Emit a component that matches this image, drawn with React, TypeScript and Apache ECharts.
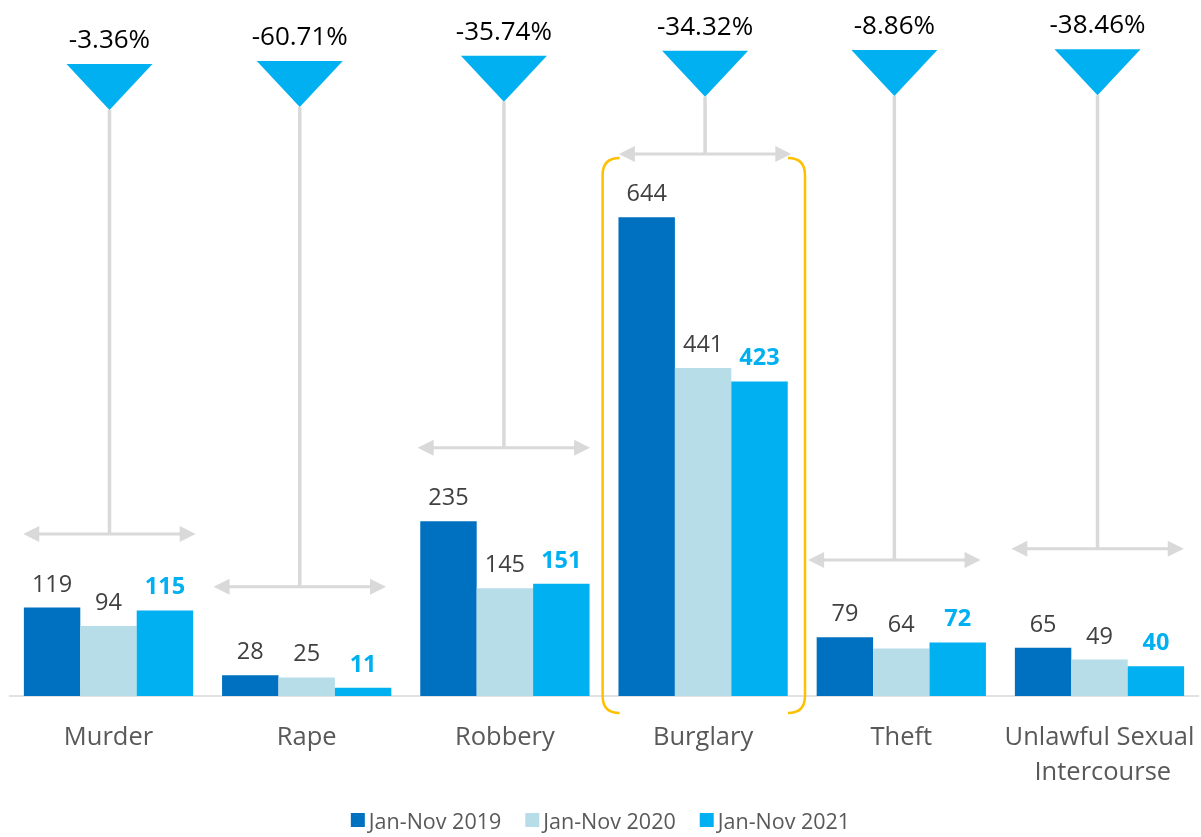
import React, { useEffect, useRef } from "react";
import * as echarts from "echarts";

const categories = ["Murder", "Rape", "Robbery", "Burglary", "Theft", "Unlawful Sexual Intercourse"];
const seriesNames = ["Jan-Nov 2019", "Jan-Nov 2020", "Jan-Nov 2021"];
const jan2019 = [119, 28, 235, 644, 79, 65];
const jan2020 = [94, 25, 145, 441, 64, 49];
const jan2021 = [115, 11, 151, 423, 72, 40];
// level (in data units) of the double-headed arrow and of the pointer tip above each group
const arrowLevel = [218, 147, 334, 729, 183, 198];
const pointerTip = [788, 792, 799, 806, 807, 808];
const highlightCategory = "Burglary";

// layout: small horizontal shift of each callout, in category widths
const calloutShift = [0.005, -0.035, -0.005, 0.01, -0.035, -0.01];

const FONT = "'Open Sans', 'Noto Sans', sans-serif";
const COLORS = ["#0070C0", "#B7DEE8", "#00B0F0"];
const GREY = "#D9D9D9";

const pctChange = categories.map((_, i) => (((jan2021[i] - jan2019[i]) / jan2019[i]) * 100).toFixed(2) + "%");

export default function App() {
  const ref = useRef<HTMLDivElement>(null);
  useEffect(() => {
    if (!ref.current) return;
    const chart = echarts.init(ref.current, undefined, { renderer: "svg" });
    const barLabel = (bold: boolean) => ({
      show: true,
      position: "top",
      distance: 13,
      fontSize: 23.5,
      fontFamily: FONT,
      fontWeight: bold ? "bold" : "normal",
      color: bold ? "#00B0F0" : "#404040",
    });
    const calloutData = categories.map((_, i) => [i, arrowLevel[i], pointerTip[i], pctChange[i]]);
    const option: any = {
      animation: false,
      textStyle: { fontFamily: FONT },
      grid: { left: 9.4, right: 2.4, top: 0, bottom: 141, containLabel: false },
      legend: {
        data: seriesNames,
        bottom: 1,
        left: "center",
        icon: "rect",
        itemWidth: 14,
        itemHeight: 14,
        itemGap: 24,
        textStyle: { fontSize: 21.5, color: "#595959", fontFamily: FONT, padding: [0, 0, 0, -1] },
      },
      xAxis: {
        type: "category",
        data: categories,
        axisLine: { show: true, lineStyle: { color: GREY, width: 1.5 } },
        axisTick: { show: false },
        axisLabel: {
          fontSize: 25.5,
          color: "#595959",
          fontFamily: FONT,
          margin: 21,
          lineHeight: 35,
          width: 196,
          overflow: "break",
          interval: 0,
        },
      },
      yAxis: { type: "value", min: 0, max: 936, show: false, splitLine: { show: false } },
      series: [
        { name: seriesNames[0], type: "bar", data: jan2019, barGap: "0%", barCategoryGap: "14.6%", itemStyle: { color: COLORS[0] }, label: barLabel(false) },
        { name: seriesNames[1], type: "bar", data: jan2020, barGap: "0%", barCategoryGap: "14.6%", itemStyle: { color: COLORS[1] }, label: barLabel(false) },
        { name: seriesNames[2], type: "bar", data: jan2021, barGap: "0%", barCategoryGap: "14.6%", itemStyle: { color: COLORS[2] }, label: barLabel(true) },
        {
          name: "callouts",
          type: "custom",
          clip: false,
          silent: true,
          encode: { x: 0, y: 1 },
          data: calloutData,
          renderItem: (params: any, api: any) => {
            const i = api.value(0);
            const catW = api.size([1, 0])[0];
            const base = api.coord([i, api.value(1)]);
            const cx = base[0] + calloutShift[i] * catW;
            const ay = base[1];
            const tipY = api.coord([i, api.value(2)])[1];
            const half = catW * 0.435;
            const head = 16;
            const triH = 46;
            const triW = 43;
            return {
              type: "group",
              children: [
                { type: "line", shape: { x1: cx - half + head - 2, y1: ay, x2: cx + half - head + 2, y2: ay }, style: { stroke: GREY, lineWidth: 3 } },
                { type: "polygon", shape: { points: [[cx - half, ay], [cx - half + head, ay - 8], [cx - half + head, ay + 8]] }, style: { fill: GREY } },
                { type: "polygon", shape: { points: [[cx + half, ay], [cx + half - head, ay - 8], [cx + half - head, ay + 8]] }, style: { fill: GREY } },
                { type: "line", shape: { x1: cx, y1: ay, x2: cx, y2: tipY }, style: { stroke: GREY, lineWidth: 3.5 } },
                { type: "polygon", shape: { points: [[cx - triW, tipY - triH], [cx + triW, tipY - triH], [cx, tipY]] }, style: { fill: "#00B0F0" } },
                {
                  type: "text",
                  style: {
                    text: calloutData[i][3],
                    x: cx,
                    y: tipY - triH - 26,
                    align: "center",
                    verticalAlign: "middle",
                    fontSize: 26,
                    fontFamily: FONT,
                    fill: "#000000",
                  },
                },
              ],
            };
          },
        },
        {
          name: "highlight",
          type: "custom",
          clip: false,
          silent: true,
          encode: { x: 0, y: 1 },
          data: [[categories.indexOf(highlightCategory), arrowLevel[categories.indexOf(highlightCategory)]]],
          renderItem: (params: any, api: any) => {
            const i = api.value(0);
            const catW = api.size([1, 0])[0];
            const bottomPt = api.coord([i, 0]);
            const cx = bottomPt[0];
            const top = api.coord([i, api.value(1)])[1] + 4;
            const bot = bottomPt[1] + 17;
            const l = cx - catW * 0.507;
            const r = cx + catW * 0.514;
            const rad = 17;
            const d =
              `M ${l + rad} ${top} Q ${l} ${top} ${l} ${top + rad} L ${l} ${bot - rad} Q ${l} ${bot} ${l + rad} ${bot} ` +
              `M ${r - rad} ${top} Q ${r} ${top} ${r} ${top + rad} L ${r} ${bot - rad} Q ${r} ${bot} ${r - rad} ${bot}`;
            return {
              type: "path",
              shape: { pathData: d },
              style: { fill: "none", stroke: "#FFC000", lineWidth: 2.5 },
            };
          },
        },
      ],
    };
    chart.setOption(option);
    return () => chart.dispose();
  }, []);
  return <div ref={ref} style={{ position: "fixed", left: 0, top: 0, width: 1201, height: 837 }} />;
}
